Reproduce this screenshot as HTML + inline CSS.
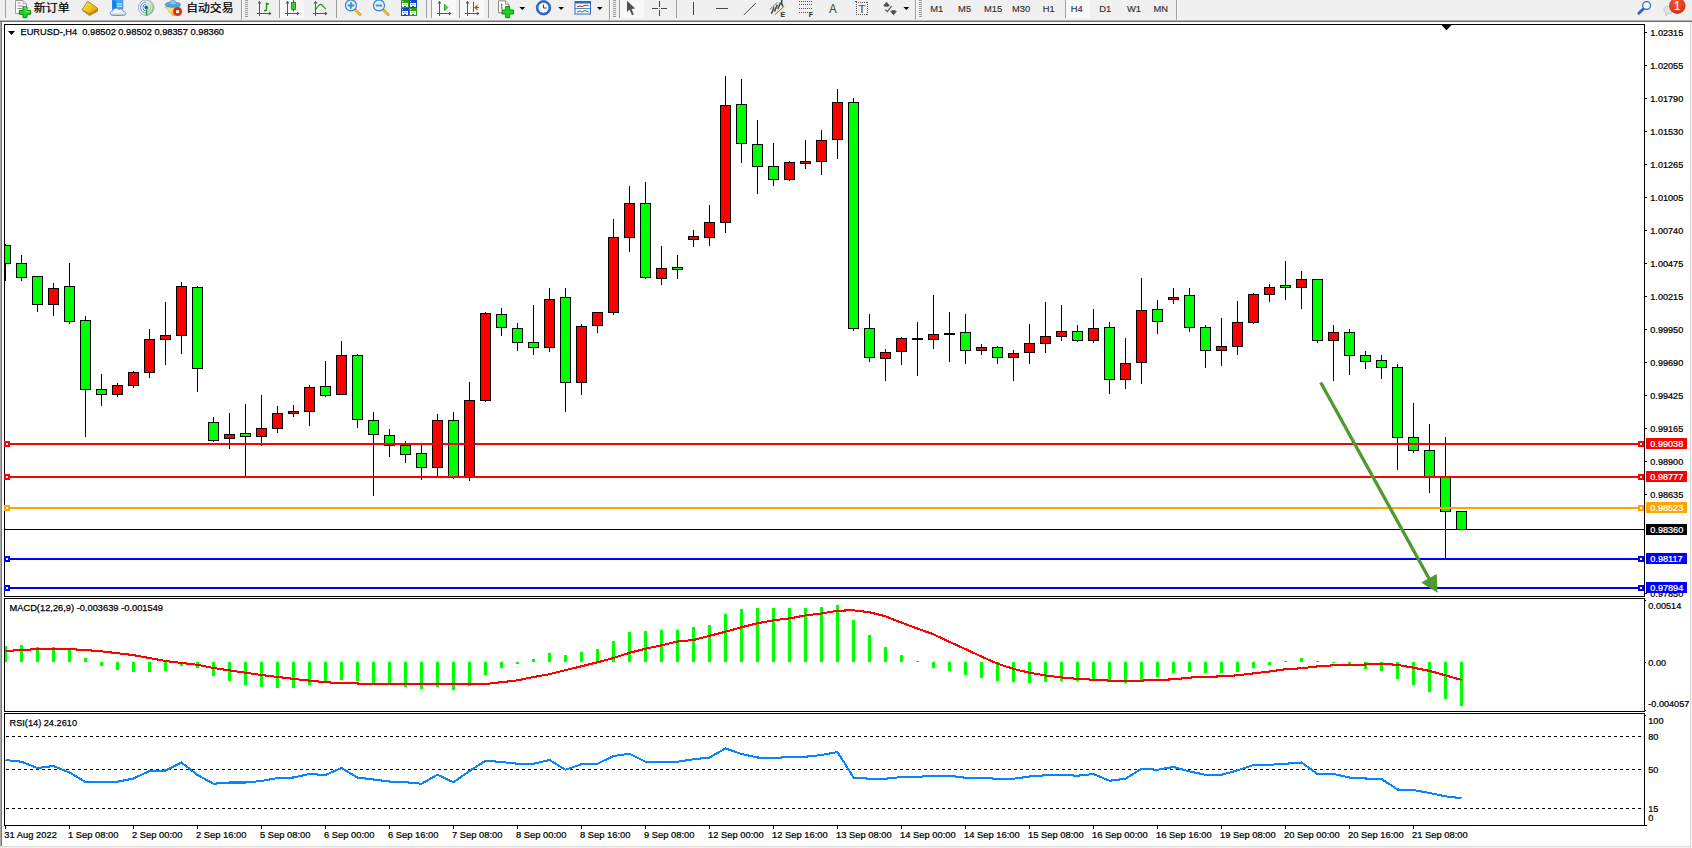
<!DOCTYPE html>
<html lang="zh-CN"><head><meta charset="utf-8"><title>EURUSD-,H4</title>
<style>
html,body{margin:0;padding:0;background:#f0f0f0;}
body{width:1692px;height:848px;overflow:hidden;font-family:"Liberation Sans", sans-serif;}
svg text{white-space:pre;}
</style></head>
<body>
<svg width="1692" height="848" viewBox="0 0 1692 848" shape-rendering="crispEdges" font-family='"Liberation Sans", sans-serif' style="display:block"><rect x="0" y="0" width="1692" height="848" fill="#f0f0f0"/>
<rect x="0" y="20" width="1692" height="1" fill="#b4b4b4"/>
<rect x="0" y="21" width="1692" height="1" fill="#6e6e6e"/>
<rect x="2" y="22" width="1688" height="824" fill="#ffffff"/>
<rect x="0" y="22" width="1" height="824" fill="#a8a8a8"/>
<rect x="1" y="22" width="1" height="824" fill="#787878"/>
<rect x="1690" y="22" width="1" height="825" fill="#dcdcdc"/>
<rect x="0" y="846" width="1691" height="1" fill="#dcdcdc"/>
<rect x="4" y="24" width="1641" height="1" fill="#000"/><rect x="4" y="24" width="1" height="573" fill="#000"/><rect x="1644" y="24" width="1" height="573" fill="#000"/><rect x="4" y="596" width="1641" height="1" fill="#000"/>
<rect x="4" y="598" width="1641" height="1" fill="#000"/><rect x="4" y="598" width="1" height="114" fill="#000"/><rect x="1644" y="598" width="1" height="114" fill="#000"/><rect x="4" y="711" width="1641" height="1" fill="#000"/>
<rect x="4" y="713" width="1641" height="1" fill="#000"/><rect x="4" y="713" width="1" height="113" fill="#000"/><rect x="1644" y="713" width="1" height="113" fill="#000"/><rect x="4" y="825" width="1641" height="1" fill="#000"/>
<rect x="1645" y="825" width="2" height="1" fill="#000"/>
<clipPath id="cp"><rect x="5" y="25" width="1639" height="571"/></clipPath>
<g clip-path="url(#cp)">
<rect x="5" y="244" width="1" height="37" fill="#000"/>
<rect x="0" y="245" width="11" height="19" fill="#000"/>
<rect x="1" y="246" width="9" height="17" fill="#00ff00"/>
<rect x="21" y="255" width="1" height="26" fill="#000"/>
<rect x="16" y="263" width="11" height="15" fill="#000"/>
<rect x="17" y="264" width="9" height="13" fill="#00ff00"/>
<rect x="37" y="276" width="1" height="36" fill="#000"/>
<rect x="32" y="276" width="11" height="29" fill="#000"/>
<rect x="33" y="277" width="9" height="27" fill="#00ff00"/>
<rect x="53" y="283" width="1" height="33" fill="#000"/>
<rect x="48" y="288" width="11" height="17" fill="#000"/>
<rect x="49" y="289" width="9" height="15" fill="#ff0000"/>
<rect x="69" y="263" width="1" height="61" fill="#000"/>
<rect x="64" y="286" width="11" height="36" fill="#000"/>
<rect x="65" y="287" width="9" height="34" fill="#00ff00"/>
<rect x="85" y="316" width="1" height="121" fill="#000"/>
<rect x="80" y="320" width="11" height="70" fill="#000"/>
<rect x="81" y="321" width="9" height="68" fill="#00ff00"/>
<rect x="101" y="374" width="1" height="32" fill="#000"/>
<rect x="96" y="389" width="11" height="6" fill="#000"/>
<rect x="97" y="390" width="9" height="4" fill="#00ff00"/>
<rect x="117" y="383" width="1" height="14" fill="#000"/>
<rect x="112" y="385" width="11" height="10" fill="#000"/>
<rect x="113" y="386" width="9" height="8" fill="#ff0000"/>
<rect x="133" y="371" width="1" height="17" fill="#000"/>
<rect x="128" y="372" width="11" height="14" fill="#000"/>
<rect x="129" y="373" width="9" height="12" fill="#ff0000"/>
<rect x="149" y="329" width="1" height="49" fill="#000"/>
<rect x="144" y="339" width="11" height="34" fill="#000"/>
<rect x="145" y="340" width="9" height="32" fill="#ff0000"/>
<rect x="165" y="302" width="1" height="63" fill="#000"/>
<rect x="160" y="335" width="11" height="5" fill="#000"/>
<rect x="161" y="336" width="9" height="3" fill="#ff0000"/>
<rect x="181" y="282" width="1" height="72" fill="#000"/>
<rect x="176" y="286" width="11" height="50" fill="#000"/>
<rect x="177" y="287" width="9" height="48" fill="#ff0000"/>
<rect x="197" y="286" width="1" height="106" fill="#000"/>
<rect x="192" y="287" width="11" height="82" fill="#000"/>
<rect x="193" y="288" width="9" height="80" fill="#00ff00"/>
<rect x="213" y="417" width="1" height="25" fill="#000"/>
<rect x="208" y="422" width="11" height="19" fill="#000"/>
<rect x="209" y="423" width="9" height="17" fill="#00ff00"/>
<rect x="229" y="413" width="1" height="36" fill="#000"/>
<rect x="224" y="434" width="11" height="5" fill="#000"/>
<rect x="225" y="435" width="9" height="3" fill="#ff0000"/>
<rect x="245" y="404" width="1" height="72" fill="#000"/>
<rect x="240" y="433" width="11" height="4" fill="#000"/>
<rect x="241" y="434" width="9" height="2" fill="#00ff00"/>
<rect x="261" y="395" width="1" height="51" fill="#000"/>
<rect x="256" y="428" width="11" height="9" fill="#000"/>
<rect x="257" y="429" width="9" height="7" fill="#ff0000"/>
<rect x="277" y="406" width="1" height="27" fill="#000"/>
<rect x="272" y="413" width="11" height="16" fill="#000"/>
<rect x="273" y="414" width="9" height="14" fill="#ff0000"/>
<rect x="293" y="405" width="1" height="12" fill="#000"/>
<rect x="288" y="411" width="11" height="3" fill="#000"/>
<rect x="289" y="412" width="9" height="1" fill="#ff0000"/>
<rect x="309" y="385" width="1" height="41" fill="#000"/>
<rect x="304" y="387" width="11" height="25" fill="#000"/>
<rect x="305" y="388" width="9" height="23" fill="#ff0000"/>
<rect x="325" y="361" width="1" height="36" fill="#000"/>
<rect x="320" y="386" width="11" height="10" fill="#000"/>
<rect x="321" y="387" width="9" height="8" fill="#00ff00"/>
<rect x="341" y="341" width="1" height="54" fill="#000"/>
<rect x="336" y="355" width="11" height="40" fill="#000"/>
<rect x="337" y="356" width="9" height="38" fill="#ff0000"/>
<rect x="357" y="354" width="1" height="74" fill="#000"/>
<rect x="352" y="355" width="11" height="65" fill="#000"/>
<rect x="353" y="356" width="9" height="63" fill="#00ff00"/>
<rect x="373" y="412" width="1" height="84" fill="#000"/>
<rect x="368" y="420" width="11" height="15" fill="#000"/>
<rect x="369" y="421" width="9" height="13" fill="#00ff00"/>
<rect x="389" y="429" width="1" height="28" fill="#000"/>
<rect x="384" y="435" width="11" height="11" fill="#000"/>
<rect x="385" y="436" width="9" height="9" fill="#00ff00"/>
<rect x="405" y="441" width="1" height="22" fill="#000"/>
<rect x="400" y="445" width="11" height="10" fill="#000"/>
<rect x="401" y="446" width="9" height="8" fill="#00ff00"/>
<rect x="421" y="445" width="1" height="35" fill="#000"/>
<rect x="416" y="453" width="11" height="15" fill="#000"/>
<rect x="417" y="454" width="9" height="13" fill="#00ff00"/>
<rect x="437" y="414" width="1" height="62" fill="#000"/>
<rect x="432" y="420" width="11" height="48" fill="#000"/>
<rect x="433" y="421" width="9" height="46" fill="#ff0000"/>
<rect x="453" y="412" width="1" height="67" fill="#000"/>
<rect x="448" y="420" width="11" height="57" fill="#000"/>
<rect x="449" y="421" width="9" height="55" fill="#00ff00"/>
<rect x="469" y="382" width="1" height="99" fill="#000"/>
<rect x="464" y="400" width="11" height="77" fill="#000"/>
<rect x="465" y="401" width="9" height="75" fill="#ff0000"/>
<rect x="485" y="312" width="1" height="90" fill="#000"/>
<rect x="480" y="313" width="11" height="88" fill="#000"/>
<rect x="481" y="314" width="9" height="86" fill="#ff0000"/>
<rect x="501" y="308" width="1" height="28" fill="#000"/>
<rect x="496" y="314" width="11" height="14" fill="#000"/>
<rect x="497" y="315" width="9" height="12" fill="#00ff00"/>
<rect x="517" y="323" width="1" height="28" fill="#000"/>
<rect x="512" y="328" width="11" height="15" fill="#000"/>
<rect x="513" y="329" width="9" height="13" fill="#00ff00"/>
<rect x="533" y="305" width="1" height="50" fill="#000"/>
<rect x="528" y="342" width="11" height="6" fill="#000"/>
<rect x="529" y="343" width="9" height="4" fill="#00ff00"/>
<rect x="549" y="288" width="1" height="64" fill="#000"/>
<rect x="544" y="299" width="11" height="49" fill="#000"/>
<rect x="545" y="300" width="9" height="47" fill="#ff0000"/>
<rect x="565" y="288" width="1" height="124" fill="#000"/>
<rect x="560" y="297" width="11" height="86" fill="#000"/>
<rect x="561" y="298" width="9" height="84" fill="#00ff00"/>
<rect x="581" y="324" width="1" height="71" fill="#000"/>
<rect x="576" y="326" width="11" height="57" fill="#000"/>
<rect x="577" y="327" width="9" height="55" fill="#ff0000"/>
<rect x="597" y="312" width="1" height="21" fill="#000"/>
<rect x="592" y="312" width="11" height="14" fill="#000"/>
<rect x="593" y="313" width="9" height="12" fill="#ff0000"/>
<rect x="613" y="219" width="1" height="96" fill="#000"/>
<rect x="608" y="237" width="11" height="76" fill="#000"/>
<rect x="609" y="238" width="9" height="74" fill="#ff0000"/>
<rect x="629" y="186" width="1" height="66" fill="#000"/>
<rect x="624" y="203" width="11" height="35" fill="#000"/>
<rect x="625" y="204" width="9" height="33" fill="#ff0000"/>
<rect x="645" y="182" width="1" height="97" fill="#000"/>
<rect x="640" y="203" width="11" height="75" fill="#000"/>
<rect x="641" y="204" width="9" height="73" fill="#00ff00"/>
<rect x="661" y="246" width="1" height="39" fill="#000"/>
<rect x="656" y="268" width="11" height="11" fill="#000"/>
<rect x="657" y="269" width="9" height="9" fill="#ff0000"/>
<rect x="677" y="255" width="1" height="24" fill="#000"/>
<rect x="672" y="267" width="11" height="3" fill="#000"/>
<rect x="673" y="268" width="9" height="1" fill="#00ff00"/>
<rect x="693" y="230" width="1" height="17" fill="#000"/>
<rect x="688" y="236" width="11" height="4" fill="#000"/>
<rect x="689" y="237" width="9" height="2" fill="#ff0000"/>
<rect x="709" y="205" width="1" height="41" fill="#000"/>
<rect x="704" y="222" width="11" height="16" fill="#000"/>
<rect x="705" y="223" width="9" height="14" fill="#ff0000"/>
<rect x="725" y="76" width="1" height="157" fill="#000"/>
<rect x="720" y="105" width="11" height="118" fill="#000"/>
<rect x="721" y="106" width="9" height="116" fill="#ff0000"/>
<rect x="741" y="79" width="1" height="84" fill="#000"/>
<rect x="736" y="104" width="11" height="40" fill="#000"/>
<rect x="737" y="105" width="9" height="38" fill="#00ff00"/>
<rect x="757" y="120" width="1" height="74" fill="#000"/>
<rect x="752" y="144" width="11" height="23" fill="#000"/>
<rect x="753" y="145" width="9" height="21" fill="#00ff00"/>
<rect x="773" y="143" width="1" height="43" fill="#000"/>
<rect x="768" y="166" width="11" height="14" fill="#000"/>
<rect x="769" y="167" width="9" height="12" fill="#00ff00"/>
<rect x="789" y="161" width="1" height="20" fill="#000"/>
<rect x="784" y="162" width="11" height="18" fill="#000"/>
<rect x="785" y="163" width="9" height="16" fill="#ff0000"/>
<rect x="805" y="140" width="1" height="29" fill="#000"/>
<rect x="800" y="161" width="11" height="3" fill="#000"/>
<rect x="801" y="162" width="9" height="1" fill="#ff0000"/>
<rect x="821" y="130" width="1" height="45" fill="#000"/>
<rect x="816" y="140" width="11" height="22" fill="#000"/>
<rect x="817" y="141" width="9" height="20" fill="#ff0000"/>
<rect x="837" y="89" width="1" height="70" fill="#000"/>
<rect x="832" y="102" width="11" height="38" fill="#000"/>
<rect x="833" y="103" width="9" height="36" fill="#ff0000"/>
<rect x="853" y="98" width="1" height="233" fill="#000"/>
<rect x="848" y="102" width="11" height="227" fill="#000"/>
<rect x="849" y="103" width="9" height="225" fill="#00ff00"/>
<rect x="869" y="314" width="1" height="48" fill="#000"/>
<rect x="864" y="328" width="11" height="30" fill="#000"/>
<rect x="865" y="329" width="9" height="28" fill="#00ff00"/>
<rect x="885" y="349" width="1" height="32" fill="#000"/>
<rect x="880" y="352" width="11" height="7" fill="#000"/>
<rect x="881" y="353" width="9" height="5" fill="#ff0000"/>
<rect x="901" y="337" width="1" height="28" fill="#000"/>
<rect x="896" y="338" width="11" height="14" fill="#000"/>
<rect x="897" y="339" width="9" height="12" fill="#ff0000"/>
<rect x="917" y="322" width="1" height="54" fill="#000"/>
<rect x="912" y="338" width="11" height="2" fill="#000"/>
<rect x="933" y="295" width="1" height="54" fill="#000"/>
<rect x="928" y="334" width="11" height="6" fill="#000"/>
<rect x="929" y="335" width="9" height="4" fill="#ff0000"/>
<rect x="949" y="312" width="1" height="50" fill="#000"/>
<rect x="944" y="333" width="11" height="2" fill="#000"/>
<rect x="965" y="314" width="1" height="50" fill="#000"/>
<rect x="960" y="332" width="11" height="19" fill="#000"/>
<rect x="961" y="333" width="9" height="17" fill="#00ff00"/>
<rect x="981" y="344" width="1" height="11" fill="#000"/>
<rect x="976" y="347" width="11" height="4" fill="#000"/>
<rect x="977" y="348" width="9" height="2" fill="#ff0000"/>
<rect x="997" y="346" width="1" height="18" fill="#000"/>
<rect x="992" y="347" width="11" height="11" fill="#000"/>
<rect x="993" y="348" width="9" height="9" fill="#00ff00"/>
<rect x="1013" y="350" width="1" height="31" fill="#000"/>
<rect x="1008" y="353" width="11" height="5" fill="#000"/>
<rect x="1009" y="354" width="9" height="3" fill="#ff0000"/>
<rect x="1029" y="324" width="1" height="40" fill="#000"/>
<rect x="1024" y="343" width="11" height="10" fill="#000"/>
<rect x="1025" y="344" width="9" height="8" fill="#ff0000"/>
<rect x="1045" y="302" width="1" height="51" fill="#000"/>
<rect x="1040" y="336" width="11" height="8" fill="#000"/>
<rect x="1041" y="337" width="9" height="6" fill="#ff0000"/>
<rect x="1061" y="305" width="1" height="36" fill="#000"/>
<rect x="1056" y="331" width="11" height="6" fill="#000"/>
<rect x="1057" y="332" width="9" height="4" fill="#ff0000"/>
<rect x="1077" y="325" width="1" height="17" fill="#000"/>
<rect x="1072" y="331" width="11" height="10" fill="#000"/>
<rect x="1073" y="332" width="9" height="8" fill="#00ff00"/>
<rect x="1093" y="309" width="1" height="34" fill="#000"/>
<rect x="1088" y="328" width="11" height="13" fill="#000"/>
<rect x="1089" y="329" width="9" height="11" fill="#ff0000"/>
<rect x="1109" y="322" width="1" height="72" fill="#000"/>
<rect x="1104" y="327" width="11" height="53" fill="#000"/>
<rect x="1105" y="328" width="9" height="51" fill="#00ff00"/>
<rect x="1125" y="338" width="1" height="51" fill="#000"/>
<rect x="1120" y="363" width="11" height="17" fill="#000"/>
<rect x="1121" y="364" width="9" height="15" fill="#ff0000"/>
<rect x="1141" y="278" width="1" height="106" fill="#000"/>
<rect x="1136" y="310" width="11" height="53" fill="#000"/>
<rect x="1137" y="311" width="9" height="51" fill="#ff0000"/>
<rect x="1157" y="300" width="1" height="34" fill="#000"/>
<rect x="1152" y="309" width="11" height="13" fill="#000"/>
<rect x="1153" y="310" width="9" height="11" fill="#00ff00"/>
<rect x="1173" y="288" width="1" height="16" fill="#000"/>
<rect x="1168" y="297" width="11" height="3" fill="#000"/>
<rect x="1169" y="298" width="9" height="1" fill="#ff0000"/>
<rect x="1189" y="288" width="1" height="44" fill="#000"/>
<rect x="1184" y="295" width="11" height="33" fill="#000"/>
<rect x="1185" y="296" width="9" height="31" fill="#00ff00"/>
<rect x="1205" y="325" width="1" height="43" fill="#000"/>
<rect x="1200" y="327" width="11" height="24" fill="#000"/>
<rect x="1201" y="328" width="9" height="22" fill="#00ff00"/>
<rect x="1221" y="318" width="1" height="48" fill="#000"/>
<rect x="1216" y="346" width="11" height="5" fill="#000"/>
<rect x="1217" y="347" width="9" height="3" fill="#ff0000"/>
<rect x="1237" y="301" width="1" height="54" fill="#000"/>
<rect x="1232" y="322" width="11" height="25" fill="#000"/>
<rect x="1233" y="323" width="9" height="23" fill="#ff0000"/>
<rect x="1253" y="293" width="1" height="31" fill="#000"/>
<rect x="1248" y="294" width="11" height="29" fill="#000"/>
<rect x="1249" y="295" width="9" height="27" fill="#ff0000"/>
<rect x="1269" y="284" width="1" height="18" fill="#000"/>
<rect x="1264" y="287" width="11" height="8" fill="#000"/>
<rect x="1265" y="288" width="9" height="6" fill="#ff0000"/>
<rect x="1285" y="261" width="1" height="39" fill="#000"/>
<rect x="1280" y="285" width="11" height="3" fill="#000"/>
<rect x="1281" y="286" width="9" height="1" fill="#00ff00"/>
<rect x="1301" y="271" width="1" height="38" fill="#000"/>
<rect x="1296" y="279" width="11" height="9" fill="#000"/>
<rect x="1297" y="280" width="9" height="7" fill="#ff0000"/>
<rect x="1317" y="279" width="1" height="64" fill="#000"/>
<rect x="1312" y="279" width="11" height="62" fill="#000"/>
<rect x="1313" y="280" width="9" height="60" fill="#00ff00"/>
<rect x="1333" y="325" width="1" height="56" fill="#000"/>
<rect x="1328" y="332" width="11" height="9" fill="#000"/>
<rect x="1329" y="333" width="9" height="7" fill="#ff0000"/>
<rect x="1349" y="329" width="1" height="46" fill="#000"/>
<rect x="1344" y="332" width="11" height="24" fill="#000"/>
<rect x="1345" y="333" width="9" height="22" fill="#00ff00"/>
<rect x="1365" y="351" width="1" height="18" fill="#000"/>
<rect x="1360" y="355" width="11" height="7" fill="#000"/>
<rect x="1361" y="356" width="9" height="5" fill="#00ff00"/>
<rect x="1381" y="355" width="1" height="24" fill="#000"/>
<rect x="1376" y="360" width="11" height="8" fill="#000"/>
<rect x="1377" y="361" width="9" height="6" fill="#00ff00"/>
<rect x="1397" y="364" width="1" height="106" fill="#000"/>
<rect x="1392" y="367" width="11" height="71" fill="#000"/>
<rect x="1393" y="368" width="9" height="69" fill="#00ff00"/>
<rect x="1413" y="403" width="1" height="50" fill="#000"/>
<rect x="1408" y="437" width="11" height="14" fill="#000"/>
<rect x="1409" y="438" width="9" height="12" fill="#00ff00"/>
<rect x="1429" y="424" width="1" height="69" fill="#000"/>
<rect x="1424" y="450" width="11" height="27" fill="#000"/>
<rect x="1425" y="451" width="9" height="25" fill="#00ff00"/>
<rect x="1445" y="437" width="1" height="121" fill="#000"/>
<rect x="1440" y="477" width="11" height="35" fill="#000"/>
<rect x="1441" y="478" width="9" height="33" fill="#00ff00"/>
<rect x="1461" y="511" width="1" height="19" fill="#000"/>
<rect x="1456" y="511" width="11" height="19" fill="#000"/>
<rect x="1457" y="512" width="9" height="17" fill="#00ff00"/>
</g>
<rect x="5" y="529" width="1639" height="1" fill="#000"/>
<rect x="5" y="443" width="1639" height="2" fill="#ff0000"/><rect x="4" y="441" width="6" height="6" fill="#ff0000"/><rect x="6" y="443" width="2" height="2" fill="#fff"/><rect x="1638" y="441" width="6" height="6" fill="#ff0000"/><rect x="1640" y="443" width="2" height="2" fill="#fff"/>
<rect x="5" y="476" width="1639" height="2" fill="#ff0000"/><rect x="4" y="474" width="6" height="6" fill="#ff0000"/><rect x="6" y="476" width="2" height="2" fill="#fff"/><rect x="1638" y="474" width="6" height="6" fill="#ff0000"/><rect x="1640" y="476" width="2" height="2" fill="#fff"/>
<rect x="5" y="507" width="1639" height="2" fill="#ffa500"/><rect x="4" y="505" width="6" height="6" fill="#ffa500"/><rect x="6" y="507" width="2" height="2" fill="#fff"/><rect x="1638" y="505" width="6" height="6" fill="#ffa500"/><rect x="1640" y="507" width="2" height="2" fill="#fff"/>
<rect x="5" y="558" width="1639" height="2" fill="#0000ff"/><rect x="4" y="556" width="6" height="6" fill="#0000ff"/><rect x="6" y="558" width="2" height="2" fill="#fff"/><rect x="1638" y="556" width="6" height="6" fill="#0000ff"/><rect x="1640" y="558" width="2" height="2" fill="#fff"/>
<rect x="5" y="587" width="1639" height="2" fill="#0000ff"/><rect x="4" y="585" width="6" height="6" fill="#0000ff"/><rect x="6" y="587" width="2" height="2" fill="#fff"/><rect x="1638" y="585" width="6" height="6" fill="#0000ff"/><rect x="1640" y="587" width="2" height="2" fill="#fff"/>
<line x1="1320.7" y1="382.5" x2="1431" y2="582" stroke="#4f9a2f" stroke-width="3.3" shape-rendering="geometricPrecision"/>
<polygon points="1437.5,592.8 1421.2,582.4 1436.8,574" fill="#4f9a2f" shape-rendering="geometricPrecision"/>
<g shape-rendering="geometricPrecision">
<rect x="1645" y="32" width="2" height="1" fill="#000"/>
<text transform="translate(1650.30,35.81) scale(0.93,1)" font-size="9.8" fill="#000" stroke="#000" stroke-width="0.25" text-anchor="start">1.02315</text>
<rect x="1645" y="65" width="2" height="1" fill="#000"/>
<text transform="translate(1650.30,68.83) scale(0.93,1)" font-size="9.8" fill="#000" stroke="#000" stroke-width="0.25" text-anchor="start">1.02055</text>
<rect x="1645" y="98" width="2" height="1" fill="#000"/>
<text transform="translate(1650.30,101.85) scale(0.93,1)" font-size="9.8" fill="#000" stroke="#000" stroke-width="0.25" text-anchor="start">1.01790</text>
<rect x="1645" y="131" width="2" height="1" fill="#000"/>
<text transform="translate(1650.30,134.87) scale(0.93,1)" font-size="9.8" fill="#000" stroke="#000" stroke-width="0.25" text-anchor="start">1.01530</text>
<rect x="1645" y="164" width="2" height="1" fill="#000"/>
<text transform="translate(1650.30,167.89) scale(0.93,1)" font-size="9.8" fill="#000" stroke="#000" stroke-width="0.25" text-anchor="start">1.01265</text>
<rect x="1645" y="197" width="2" height="1" fill="#000"/>
<text transform="translate(1650.30,200.91) scale(0.93,1)" font-size="9.8" fill="#000" stroke="#000" stroke-width="0.25" text-anchor="start">1.01005</text>
<rect x="1645" y="230" width="2" height="1" fill="#000"/>
<text transform="translate(1650.30,233.93) scale(0.93,1)" font-size="9.8" fill="#000" stroke="#000" stroke-width="0.25" text-anchor="start">1.00740</text>
<rect x="1645" y="263" width="2" height="1" fill="#000"/>
<text transform="translate(1650.30,266.95) scale(0.93,1)" font-size="9.8" fill="#000" stroke="#000" stroke-width="0.25" text-anchor="start">1.00475</text>
<rect x="1645" y="296" width="2" height="1" fill="#000"/>
<text transform="translate(1650.30,299.97) scale(0.93,1)" font-size="9.8" fill="#000" stroke="#000" stroke-width="0.25" text-anchor="start">1.00215</text>
<rect x="1645" y="329" width="2" height="1" fill="#000"/>
<text transform="translate(1650.30,332.99) scale(0.93,1)" font-size="9.8" fill="#000" stroke="#000" stroke-width="0.25" text-anchor="start">0.99950</text>
<rect x="1645" y="362" width="2" height="1" fill="#000"/>
<text transform="translate(1650.30,366.01) scale(0.93,1)" font-size="9.8" fill="#000" stroke="#000" stroke-width="0.25" text-anchor="start">0.99690</text>
<rect x="1645" y="395" width="2" height="1" fill="#000"/>
<text transform="translate(1650.30,399.03) scale(0.93,1)" font-size="9.8" fill="#000" stroke="#000" stroke-width="0.25" text-anchor="start">0.99425</text>
<rect x="1645" y="428" width="2" height="1" fill="#000"/>
<text transform="translate(1650.30,432.05) scale(0.93,1)" font-size="9.8" fill="#000" stroke="#000" stroke-width="0.25" text-anchor="start">0.99165</text>
<rect x="1645" y="461" width="2" height="1" fill="#000"/>
<text transform="translate(1650.30,465.07) scale(0.93,1)" font-size="9.8" fill="#000" stroke="#000" stroke-width="0.25" text-anchor="start">0.98900</text>
<rect x="1645" y="494" width="2" height="1" fill="#000"/>
<text transform="translate(1650.30,498.09) scale(0.93,1)" font-size="9.8" fill="#000" stroke="#000" stroke-width="0.25" text-anchor="start">0.98635</text>
<clipPath id="cp2"><rect x="1645" y="25" width="45" height="571"/></clipPath>
<text transform="translate(1650.30,597.11) scale(0.93,1)" font-size="9.8" fill="#000" stroke="#000" stroke-width="0.25" text-anchor="start">0.97850</text>
<rect x="1645" y="593" width="2" height="1" fill="#000"/>
<rect x="1646" y="438" width="41" height="11" fill="#ff0000"/>
<text transform="translate(1650.30,447.11) scale(0.93,1)" font-size="9.8" fill="#fff" stroke="#fff" stroke-width="0.25" text-anchor="start">0.99038</text>
<rect x="1646" y="471" width="41" height="11" fill="#ff0000"/>
<text transform="translate(1650.30,480.11) scale(0.93,1)" font-size="9.8" fill="#fff" stroke="#fff" stroke-width="0.25" text-anchor="start">0.98777</text>
<rect x="1646" y="502" width="41" height="11" fill="#ffa500"/>
<text transform="translate(1650.30,511.11) scale(0.93,1)" font-size="9.8" fill="#fff" stroke="#fff" stroke-width="0.25" text-anchor="start">0.98523</text>
<rect x="1646" y="553" width="41" height="11" fill="#0000ff"/>
<text transform="translate(1650.30,562.11) scale(0.93,1)" font-size="9.8" fill="#fff" stroke="#fff" stroke-width="0.25" text-anchor="start">0.98117</text>
<rect x="1646" y="582" width="41" height="11" fill="#0000ff"/>
<text transform="translate(1650.30,591.11) scale(0.93,1)" font-size="9.8" fill="#fff" stroke="#fff" stroke-width="0.25" text-anchor="start">0.97894</text>
<rect x="1646" y="524" width="41" height="11" fill="#000"/>
<text transform="translate(1650.30,533.11) scale(0.93,1)" font-size="9.8" fill="#fff" stroke="#fff" stroke-width="0.25" text-anchor="start">0.98360</text>
</g>
<polygon points="8,31 15,31 11.5,35" fill="#000" shape-rendering="geometricPrecision"/>
<text x="20.50" y="35.21" font-size="9.8" fill="#000" stroke="#000" stroke-width="0.25" text-anchor="start" textLength="203.5" lengthAdjust="spacingAndGlyphs">EURUSD-,H4&#160; 0.98502 0.98502 0.98357 0.98360</text>
<polygon points="1441.5,25 1451.5,25 1446.5,30.2" fill="#000" shape-rendering="geometricPrecision"/>
<text x="9.50" y="611.11" font-size="9.8" fill="#000" stroke="#000" stroke-width="0.25" text-anchor="start" textLength="153.5" lengthAdjust="spacingAndGlyphs">MACD(12,26,9) -0.003639 -0.001549</text>
<rect x="5" y="646" width="2" height="16" fill="#00ff00"/>
<rect x="20" y="645" width="3" height="17" fill="#00ff00"/>
<rect x="36" y="647" width="3" height="15" fill="#00ff00"/>
<rect x="52" y="647" width="3" height="15" fill="#00ff00"/>
<rect x="68" y="650" width="3" height="12" fill="#00ff00"/>
<rect x="84" y="658" width="3" height="4" fill="#00ff00"/>
<rect x="100" y="662" width="3" height="4" fill="#00ff00"/>
<rect x="116" y="662" width="3" height="8" fill="#00ff00"/>
<rect x="132" y="662" width="3" height="10" fill="#00ff00"/>
<rect x="148" y="662" width="3" height="10" fill="#00ff00"/>
<rect x="164" y="662" width="3" height="9" fill="#00ff00"/>
<rect x="180" y="662" width="3" height="4" fill="#00ff00"/>
<rect x="196" y="662" width="3" height="6" fill="#00ff00"/>
<rect x="212" y="662" width="3" height="14" fill="#00ff00"/>
<rect x="228" y="662" width="3" height="19" fill="#00ff00"/>
<rect x="244" y="662" width="3" height="23" fill="#00ff00"/>
<rect x="260" y="662" width="3" height="25" fill="#00ff00"/>
<rect x="276" y="662" width="3" height="26" fill="#00ff00"/>
<rect x="292" y="662" width="3" height="26" fill="#00ff00"/>
<rect x="308" y="662" width="3" height="23" fill="#00ff00"/>
<rect x="324" y="662" width="3" height="21" fill="#00ff00"/>
<rect x="340" y="662" width="3" height="18" fill="#00ff00"/>
<rect x="356" y="662" width="3" height="19" fill="#00ff00"/>
<rect x="372" y="662" width="3" height="21" fill="#00ff00"/>
<rect x="388" y="662" width="3" height="22" fill="#00ff00"/>
<rect x="404" y="662" width="3" height="25" fill="#00ff00"/>
<rect x="420" y="662" width="3" height="27" fill="#00ff00"/>
<rect x="436" y="662" width="3" height="25" fill="#00ff00"/>
<rect x="452" y="662" width="3" height="28" fill="#00ff00"/>
<rect x="468" y="662" width="3" height="24" fill="#00ff00"/>
<rect x="484" y="662" width="3" height="13" fill="#00ff00"/>
<rect x="500" y="662" width="3" height="6" fill="#00ff00"/>
<rect x="516" y="662" width="3" height="2" fill="#00ff00"/>
<rect x="532" y="659" width="3" height="3" fill="#00ff00"/>
<rect x="548" y="653" width="3" height="9" fill="#00ff00"/>
<rect x="564" y="655" width="3" height="7" fill="#00ff00"/>
<rect x="580" y="652" width="3" height="10" fill="#00ff00"/>
<rect x="596" y="649" width="3" height="13" fill="#00ff00"/>
<rect x="612" y="641" width="3" height="21" fill="#00ff00"/>
<rect x="628" y="632" width="3" height="30" fill="#00ff00"/>
<rect x="644" y="631" width="3" height="31" fill="#00ff00"/>
<rect x="660" y="630" width="3" height="32" fill="#00ff00"/>
<rect x="676" y="630" width="3" height="32" fill="#00ff00"/>
<rect x="692" y="627" width="3" height="35" fill="#00ff00"/>
<rect x="708" y="625" width="3" height="37" fill="#00ff00"/>
<rect x="724" y="614" width="3" height="48" fill="#00ff00"/>
<rect x="740" y="609" width="3" height="53" fill="#00ff00"/>
<rect x="756" y="608" width="3" height="54" fill="#00ff00"/>
<rect x="772" y="608" width="3" height="54" fill="#00ff00"/>
<rect x="788" y="608" width="3" height="54" fill="#00ff00"/>
<rect x="804" y="608" width="3" height="54" fill="#00ff00"/>
<rect x="820" y="607" width="3" height="55" fill="#00ff00"/>
<rect x="836" y="605" width="3" height="57" fill="#00ff00"/>
<rect x="852" y="620" width="3" height="42" fill="#00ff00"/>
<rect x="868" y="635" width="3" height="27" fill="#00ff00"/>
<rect x="884" y="647" width="3" height="15" fill="#00ff00"/>
<rect x="900" y="655" width="3" height="7" fill="#00ff00"/>
<rect x="916" y="661" width="3" height="1" fill="#00ff00"/>
<rect x="932" y="662" width="3" height="6" fill="#00ff00"/>
<rect x="948" y="662" width="3" height="9" fill="#00ff00"/>
<rect x="964" y="662" width="3" height="13" fill="#00ff00"/>
<rect x="980" y="662" width="3" height="16" fill="#00ff00"/>
<rect x="996" y="662" width="3" height="19" fill="#00ff00"/>
<rect x="1012" y="662" width="3" height="20" fill="#00ff00"/>
<rect x="1028" y="662" width="3" height="21" fill="#00ff00"/>
<rect x="1044" y="662" width="3" height="20" fill="#00ff00"/>
<rect x="1060" y="662" width="3" height="19" fill="#00ff00"/>
<rect x="1076" y="662" width="3" height="19" fill="#00ff00"/>
<rect x="1092" y="662" width="3" height="18" fill="#00ff00"/>
<rect x="1108" y="662" width="3" height="20" fill="#00ff00"/>
<rect x="1124" y="662" width="3" height="21" fill="#00ff00"/>
<rect x="1140" y="662" width="3" height="18" fill="#00ff00"/>
<rect x="1156" y="662" width="3" height="15" fill="#00ff00"/>
<rect x="1172" y="662" width="3" height="11" fill="#00ff00"/>
<rect x="1188" y="662" width="3" height="10" fill="#00ff00"/>
<rect x="1204" y="662" width="3" height="11" fill="#00ff00"/>
<rect x="1220" y="662" width="3" height="11" fill="#00ff00"/>
<rect x="1236" y="662" width="3" height="10" fill="#00ff00"/>
<rect x="1252" y="662" width="3" height="6" fill="#00ff00"/>
<rect x="1268" y="662" width="3" height="3" fill="#00ff00"/>
<rect x="1284" y="661" width="3" height="1" fill="#00ff00"/>
<rect x="1300" y="658" width="3" height="4" fill="#00ff00"/>
<rect x="1316" y="661" width="3" height="1" fill="#00ff00"/>
<rect x="1332" y="662" width="3" height="1" fill="#00ff00"/>
<rect x="1348" y="662" width="3" height="2" fill="#00ff00"/>
<rect x="1364" y="662" width="3" height="7" fill="#00ff00"/>
<rect x="1380" y="662" width="3" height="9" fill="#00ff00"/>
<rect x="1396" y="662" width="3" height="17" fill="#00ff00"/>
<rect x="1412" y="662" width="3" height="23" fill="#00ff00"/>
<rect x="1428" y="662" width="3" height="30" fill="#00ff00"/>
<rect x="1444" y="662" width="3" height="37" fill="#00ff00"/>
<rect x="1460" y="662" width="3" height="44" fill="#00ff00"/>
<polyline points="5.5,651.00 21.5,650.00 37.5,649.10 53.5,649.10 69.5,649.10 85.5,650.00 101.5,651.30 117.5,653.20 133.5,655.10 149.5,658.10 165.5,661.00 181.5,662.90 197.5,664.80 213.5,668.00 229.5,670.40 245.5,672.70 261.5,675.00 277.5,676.90 293.5,678.90 309.5,680.60 325.5,682.20 341.5,683.10 357.5,683.50 373.5,684.00 389.5,684.00 405.5,684.00 421.5,684.00 437.5,684.00 453.5,684.00 469.5,684.00 485.5,684.00 501.5,682.20 517.5,680.30 533.5,677.00 549.5,674.20 565.5,670.10 581.5,666.30 597.5,662.30 613.5,658.00 629.5,652.80 645.5,648.70 661.5,645.30 677.5,641.50 693.5,640.00 709.5,635.80 725.5,631.70 741.5,627.30 757.5,623.20 773.5,620.30 789.5,618.40 805.5,615.40 821.5,613.50 837.5,610.70 853.5,610.30 869.5,612.20 885.5,616.30 901.5,622.60 917.5,628.60 933.5,634.30 949.5,641.90 965.5,649.10 981.5,656.60 997.5,663.60 1013.5,668.90 1029.5,672.70 1045.5,675.50 1061.5,677.40 1077.5,678.90 1093.5,679.70 1109.5,680.60 1125.5,680.80 1141.5,680.60 1157.5,679.80 1173.5,679.40 1189.5,677.60 1205.5,676.80 1221.5,676.40 1237.5,675.30 1253.5,673.40 1269.5,671.50 1285.5,669.20 1301.5,668.30 1317.5,666.40 1333.5,665.30 1349.5,664.90 1365.5,664.50 1381.5,663.60 1397.5,664.90 1413.5,667.70 1429.5,670.90 1445.5,675.30 1461.5,680.00" fill="none" stroke="#ff0000" stroke-width="2.05" stroke-linejoin="round" shape-rendering="crispEdges"/>
<g shape-rendering="geometricPrecision">
<text transform="translate(1648.30,609.11) scale(0.93,1)" font-size="9.8" fill="#000" stroke="#000" stroke-width="0.25" text-anchor="start">0.00514</text>
<text transform="translate(1648.30,665.51) scale(0.93,1)" font-size="9.8" fill="#000" stroke="#000" stroke-width="0.25" text-anchor="start">0.00</text>
<text transform="translate(1648.30,707.11) scale(0.93,1)" font-size="9.8" fill="#000" stroke="#000" stroke-width="0.25" text-anchor="start">-0.004057</text>
</g>
<rect x="1645" y="662" width="1" height="1" fill="#000"/>
<rect x="1645" y="600" width="1" height="1" fill="#000"/>
<rect x="1645" y="710" width="1" height="1" fill="#000"/>
<rect x="1645" y="715" width="1" height="1" fill="#000"/>
<text x="9.50" y="726.11" font-size="9.8" fill="#000" stroke="#000" stroke-width="0.25" text-anchor="start" textLength="67.5" lengthAdjust="spacingAndGlyphs">RSI(14) 24.2610</text>
<line x1="6" y1="736.5" x2="1644" y2="736.5" stroke="#000" stroke-width="1" stroke-dasharray="3 3"/>
<line x1="6" y1="769.5" x2="1644" y2="769.5" stroke="#000" stroke-width="1" stroke-dasharray="3 3"/>
<line x1="6" y1="808.5" x2="1644" y2="808.5" stroke="#000" stroke-width="1" stroke-dasharray="3 3"/>
<polyline points="5.5,760.00 21.5,761.75 37.5,768.00 53.5,766.00 69.5,772.50 85.5,782.00 101.5,782.00 117.5,781.75 133.5,778.50 149.5,771.00 165.5,770.50 181.5,762.50 197.5,775.00 213.5,783.75 229.5,782.50 245.5,782.50 261.5,781.00 277.5,778.00 293.5,777.50 309.5,774.00 325.5,775.00 341.5,768.00 357.5,777.50 373.5,779.50 389.5,781.50 405.5,782.25 421.5,783.75 437.5,774.75 453.5,782.25 469.5,771.00 485.5,760.75 501.5,762.00 517.5,763.75 533.5,763.75 549.5,760.00 565.5,769.75 581.5,764.25 597.5,763.75 613.5,756.00 629.5,753.75 645.5,761.75 661.5,761.75 677.5,761.75 693.5,759.25 709.5,757.50 725.5,748.50 741.5,754.00 757.5,757.50 773.5,758.00 789.5,757.00 805.5,756.75 821.5,755.00 837.5,752.00 853.5,777.50 869.5,778.75 885.5,778.75 901.5,777.00 917.5,776.75 933.5,776.00 949.5,775.75 965.5,777.75 981.5,778.00 997.5,778.75 1013.5,778.75 1029.5,776.50 1045.5,775.25 1061.5,774.75 1077.5,775.75 1093.5,774.00 1109.5,780.75 1125.5,778.75 1141.5,768.75 1157.5,769.75 1173.5,767.00 1189.5,771.40 1205.5,774.80 1221.5,774.80 1237.5,770.40 1253.5,765.10 1269.5,764.80 1285.5,763.75 1301.5,762.50 1317.5,774.00 1333.5,774.00 1349.5,777.50 1365.5,778.50 1381.5,779.00 1397.5,789.50 1413.5,790.00 1429.5,793.00 1445.5,796.30 1461.5,798.20" fill="none" stroke="#0685ff" stroke-width="2.05" stroke-linejoin="round" shape-rendering="crispEdges"/>
<g shape-rendering="geometricPrecision">
<text transform="translate(1648.30,723.51) scale(0.93,1)" font-size="9.8" fill="#000" stroke="#000" stroke-width="0.25" text-anchor="start">100</text>
<text transform="translate(1648.30,739.81) scale(0.93,1)" font-size="9.8" fill="#000" stroke="#000" stroke-width="0.25" text-anchor="start">80</text>
<text transform="translate(1648.30,773.01) scale(0.93,1)" font-size="9.8" fill="#000" stroke="#000" stroke-width="0.25" text-anchor="start">50</text>
<text transform="translate(1648.30,812.01) scale(0.93,1)" font-size="9.8" fill="#000" stroke="#000" stroke-width="0.25" text-anchor="start">15</text>
<text transform="translate(1648.30,821.31) scale(0.93,1)" font-size="9.8" fill="#000" stroke="#000" stroke-width="0.25" text-anchor="start">0</text>
<rect x="5" y="826" width="1" height="3" fill="#000"/>
<text transform="translate(4.30,838.11) scale(0.955,1)" font-size="9.8" fill="#000" stroke="#000" stroke-width="0.25" text-anchor="start">31 Aug 2022</text>
<rect x="69" y="826" width="1" height="3" fill="#000"/>
<text transform="translate(68.00,838.11) scale(0.955,1)" font-size="9.8" fill="#000" stroke="#000" stroke-width="0.25" text-anchor="start">1 Sep 08:00</text>
<rect x="133" y="826" width="1" height="3" fill="#000"/>
<text transform="translate(132.00,838.11) scale(0.955,1)" font-size="9.8" fill="#000" stroke="#000" stroke-width="0.25" text-anchor="start">2 Sep 00:00</text>
<rect x="197" y="826" width="1" height="3" fill="#000"/>
<text transform="translate(196.00,838.11) scale(0.955,1)" font-size="9.8" fill="#000" stroke="#000" stroke-width="0.25" text-anchor="start">2 Sep 16:00</text>
<rect x="261" y="826" width="1" height="3" fill="#000"/>
<text transform="translate(260.00,838.11) scale(0.955,1)" font-size="9.8" fill="#000" stroke="#000" stroke-width="0.25" text-anchor="start">5 Sep 08:00</text>
<rect x="325" y="826" width="1" height="3" fill="#000"/>
<text transform="translate(324.00,838.11) scale(0.955,1)" font-size="9.8" fill="#000" stroke="#000" stroke-width="0.25" text-anchor="start">6 Sep 00:00</text>
<rect x="389" y="826" width="1" height="3" fill="#000"/>
<text transform="translate(388.00,838.11) scale(0.955,1)" font-size="9.8" fill="#000" stroke="#000" stroke-width="0.25" text-anchor="start">6 Sep 16:00</text>
<rect x="453" y="826" width="1" height="3" fill="#000"/>
<text transform="translate(452.00,838.11) scale(0.955,1)" font-size="9.8" fill="#000" stroke="#000" stroke-width="0.25" text-anchor="start">7 Sep 08:00</text>
<rect x="517" y="826" width="1" height="3" fill="#000"/>
<text transform="translate(516.00,838.11) scale(0.955,1)" font-size="9.8" fill="#000" stroke="#000" stroke-width="0.25" text-anchor="start">8 Sep 00:00</text>
<rect x="581" y="826" width="1" height="3" fill="#000"/>
<text transform="translate(580.00,838.11) scale(0.955,1)" font-size="9.8" fill="#000" stroke="#000" stroke-width="0.25" text-anchor="start">8 Sep 16:00</text>
<rect x="645" y="826" width="1" height="3" fill="#000"/>
<text transform="translate(644.00,838.11) scale(0.955,1)" font-size="9.8" fill="#000" stroke="#000" stroke-width="0.25" text-anchor="start">9 Sep 08:00</text>
<rect x="709" y="826" width="1" height="3" fill="#000"/>
<text transform="translate(708.00,838.11) scale(0.955,1)" font-size="9.8" fill="#000" stroke="#000" stroke-width="0.25" text-anchor="start">12 Sep 00:00</text>
<rect x="773" y="826" width="1" height="3" fill="#000"/>
<text transform="translate(772.00,838.11) scale(0.955,1)" font-size="9.8" fill="#000" stroke="#000" stroke-width="0.25" text-anchor="start">12 Sep 16:00</text>
<rect x="837" y="826" width="1" height="3" fill="#000"/>
<text transform="translate(836.00,838.11) scale(0.955,1)" font-size="9.8" fill="#000" stroke="#000" stroke-width="0.25" text-anchor="start">13 Sep 08:00</text>
<rect x="901" y="826" width="1" height="3" fill="#000"/>
<text transform="translate(900.00,838.11) scale(0.955,1)" font-size="9.8" fill="#000" stroke="#000" stroke-width="0.25" text-anchor="start">14 Sep 00:00</text>
<rect x="965" y="826" width="1" height="3" fill="#000"/>
<text transform="translate(964.00,838.11) scale(0.955,1)" font-size="9.8" fill="#000" stroke="#000" stroke-width="0.25" text-anchor="start">14 Sep 16:00</text>
<rect x="1029" y="826" width="1" height="3" fill="#000"/>
<text transform="translate(1028.00,838.11) scale(0.955,1)" font-size="9.8" fill="#000" stroke="#000" stroke-width="0.25" text-anchor="start">15 Sep 08:00</text>
<rect x="1093" y="826" width="1" height="3" fill="#000"/>
<text transform="translate(1092.00,838.11) scale(0.955,1)" font-size="9.8" fill="#000" stroke="#000" stroke-width="0.25" text-anchor="start">16 Sep 00:00</text>
<rect x="1157" y="826" width="1" height="3" fill="#000"/>
<text transform="translate(1156.00,838.11) scale(0.955,1)" font-size="9.8" fill="#000" stroke="#000" stroke-width="0.25" text-anchor="start">16 Sep 16:00</text>
<rect x="1221" y="826" width="1" height="3" fill="#000"/>
<text transform="translate(1220.00,838.11) scale(0.955,1)" font-size="9.8" fill="#000" stroke="#000" stroke-width="0.25" text-anchor="start">19 Sep 08:00</text>
<rect x="1285" y="826" width="1" height="3" fill="#000"/>
<text transform="translate(1284.00,838.11) scale(0.955,1)" font-size="9.8" fill="#000" stroke="#000" stroke-width="0.25" text-anchor="start">20 Sep 00:00</text>
<rect x="1349" y="826" width="1" height="3" fill="#000"/>
<text transform="translate(1348.00,838.11) scale(0.955,1)" font-size="9.8" fill="#000" stroke="#000" stroke-width="0.25" text-anchor="start">20 Sep 16:00</text>
<rect x="1413" y="826" width="1" height="3" fill="#000"/>
<text transform="translate(1412.00,838.11) scale(0.955,1)" font-size="9.8" fill="#000" stroke="#000" stroke-width="0.25" text-anchor="start">21 Sep 08:00</text>
</g>
<g shape-rendering="geometricPrecision">
<g shape-rendering="crispEdges"><rect x="5" y="0" width="1" height="18" fill="#a0a0a0"/></g>
<path d="M15.5 0.5 H23 L26.5 4 V13.5 H15.5z" fill="#fdfdfd" stroke="#9a9a9a" stroke-width="1"/><path d="M23 0.5 V4 H26.5" fill="#e8e8e8" stroke="#9a9a9a" stroke-width="0.8"/><path d="M17.5 3 H20.5 M17.5 6 H23 M17.5 8.5 H22" stroke="#909090" stroke-width="1.2"/><path d="M23 6.8 H27 V10.5 H30.7 V14.3 H27 V17.6 H23 V14.3 H19.3 V10.5 H23z" fill="#25d025" stroke="#0c8c0c" stroke-width="1"/><path d="M24 7.8 H26 V11.5 H29.7" stroke="#8cf08c" stroke-width="0.8" fill="none"/>
<text transform="translate(33.7,11.7) scale(1.0,0.93)" font-size="12" fill="#000" stroke="#000" stroke-width="0.25" font-family='"Liberation Sans", "Noto Sans CJK SC", sans-serif'>新订单</text>
<linearGradient id="gd" x1="0" y1="0" x2="1" y2="1"><stop offset="0" stop-color="#fbe36a"/><stop offset="0.5" stop-color="#f2c21c"/><stop offset="1" stop-color="#c98a14"/></linearGradient><path d="M82 9.7 L87.6 1.3 L97.5 8.1 L97.5 11.2 L89.4 15.6z" fill="url(#gd)" stroke="#b07818" stroke-width="0.9"/><path d="M83 10.6 L89.6 14.2 L97 9.6" stroke="#a86c10" stroke-width="0.8" fill="none"/>
<linearGradient id="sv" x1="0" y1="0" x2="1" y2="0"><stop offset="0" stop-color="#1288ff"/><stop offset="0.35" stop-color="#1a90ff"/><stop offset="0.36" stop-color="#5ab4ff"/><stop offset="1" stop-color="#9ad4ff"/></linearGradient><linearGradient id="cl" x1="0" y1="0" x2="0" y2="1"><stop offset="0" stop-color="#ffffff"/><stop offset="0.6" stop-color="#eef1f8"/><stop offset="1" stop-color="#b8c2dc"/></linearGradient><path d="M112.2 0 H123.3 V9.5 H112.2z" fill="#3ea2ff"/><path d="M112.2 0 L116 1 V9.5 H112.2z" fill="#0f7ff0"/><path d="M117.2 4 H122 M117.2 6.2 H122" stroke="#eaf6ff" stroke-width="1.1"/><path d="M113.2 15.4 C109.4 15.4 109.4 11 113 10.8 C113.2 8 117.6 7.4 118.8 9.6 C120.4 8.5 123.4 9.3 123.2 11.5 C126.8 11.4 126.8 15.4 123.4 15.4z" fill="url(#cl)" stroke="#6f84b4" stroke-width="0.9"/>
<radialGradient id="sg" cx="0.5" cy="0.5" r="0.5"><stop offset="0" stop-color="#ffffff"/><stop offset="1" stop-color="#e9f0ea"/></radialGradient><linearGradient id="sgg" x1="0" y1="0" x2="1" y2="1"><stop offset="0" stop-color="#cfe6cf" stop-opacity="0.5"/><stop offset="1" stop-color="#4fa64f" stop-opacity="0.9"/></linearGradient><circle cx="146.2" cy="7.6" r="7.8" fill="url(#sg)"/><path d="M146.2 -0.2 A7.8 7.8 0 0 1 146.2 15.4z" fill="url(#sgg)"/><path d="M146.2 -0.2 A7.8 7.8 0 0 0 146.2 15.4" stroke="#7f9fe0" stroke-width="0.9" fill="none" opacity="0.85"/><path d="M146.2 2 A5.6 5.6 0 0 0 146.2 13.2" stroke="#5f86dc" stroke-width="0.9" fill="none"/><path d="M146.2 4.2 A3.4 3.4 0 0 0 146.2 11" stroke="#4f77d6" stroke-width="0.9" fill="none"/><path d="M146.2 2 A5.6 5.6 0 0 1 146.2 13.2 M146.2 4.2 A3.4 3.4 0 0 1 146.2 11" stroke="#eef6ee" stroke-width="0.8" fill="none" opacity="0.9"/><path d="M146.2 -0.2 A7.8 7.8 0 0 1 146.2 15.4" stroke="#8fb89a" stroke-width="0.8" fill="none"/><circle cx="146.2" cy="7.4" r="1.8" fill="#2a55cc"/><path d="M146.6 8 V15.6" stroke="#1fa01f" stroke-width="1.4"/>
<linearGradient id="fy" x1="0" y1="0" x2="1" y2="1"><stop offset="0" stop-color="#fff2a0"/><stop offset="1" stop-color="#e8b820"/></linearGradient><path d="M165.3 6.8 L180.2 6.8 L174.6 15.6 L172.6 15.6z" fill="url(#fy)" stroke="#c9a21c" stroke-width="0.7"/><ellipse cx="172.9" cy="4.6" rx="7.8" ry="2.7" fill="#4fa6e2" stroke="#2f86c4" stroke-width="0.6"/><path d="M169.6 4 C169.6 -1.5 176.2 -1.5 176.2 4 C174 5 171.6 5 169.6 4z" fill="#86c8f0" stroke="#3f90cc" stroke-width="0.5"/><circle cx="177.6" cy="11.6" r="4.1" fill="#e22a14" stroke="#b01808" stroke-width="0.5"/><rect x="176.1" y="10.1" width="3" height="3" fill="#fff"/>
<text transform="translate(186.2,11.7) scale(0.985,0.93)" font-size="12" fill="#000" stroke="#000" stroke-width="0.25" font-family='"Liberation Sans", "Noto Sans CJK SC", sans-serif'>自动交易</text>
<g shape-rendering="crispEdges"><rect x="241" y="0" width="1" height="20" fill="#a0a0a0"/><rect x="242" y="0" width="1" height="20" fill="#fafafa"/></g>
<g shape-rendering="crispEdges"><rect x="245" y="0" width="3" height="1" fill="#9a9a9a"/><rect x="245" y="2" width="3" height="1" fill="#9a9a9a"/><rect x="245" y="4" width="3" height="1" fill="#9a9a9a"/><rect x="245" y="6" width="3" height="1" fill="#9a9a9a"/><rect x="245" y="8" width="3" height="1" fill="#9a9a9a"/><rect x="245" y="10" width="3" height="1" fill="#9a9a9a"/><rect x="245" y="12" width="3" height="1" fill="#9a9a9a"/><rect x="245" y="14" width="3" height="1" fill="#9a9a9a"/><rect x="245" y="16" width="3" height="1" fill="#9a9a9a"/></g>
<g shape-rendering="crispEdges" fill="#585858"><rect x="259" y="2" width="1" height="14"/><rect x="257" y="13" width="13" height="1"/></g><path d="M259.5 0.8 l-2 2.7 h4z M271.6 13.5 l-2.7 -2 v4z" fill="#585858"/>
<path d="M266.5 2.5 V11 M264 10.5 H266.5 M266.5 4 H269" stroke="#1a8a1a" stroke-width="1.3" fill="none"/>
<g shape-rendering="crispEdges"><rect x="279" y="0" width="1" height="18" fill="#a0a0a0"/></g>
<rect x="280" y="0" width="24" height="18" fill="#f8f8f8"/>
<g shape-rendering="crispEdges" fill="#585858"><rect x="287" y="2" width="1" height="14"/><rect x="285" y="13" width="13" height="1"/></g><path d="M287.5 0.8 l-2 2.7 h4z M299.6 13.5 l-2.7 -2 v4z" fill="#585858"/>
<path d="M293.5 0 V11.5" stroke="#1a7a1a" stroke-width="1"/><rect x="291.5" y="2.5" width="4" height="7" fill="#30d030" stroke="#1a7a1a" stroke-width="0.8"/>
<g shape-rendering="crispEdges" fill="#585858"><rect x="315" y="2" width="1" height="14"/><rect x="313" y="13" width="13" height="1"/></g><path d="M315.5 0.8 l-2 2.7 h4z M327.6 13.5 l-2.7 -2 v4z" fill="#585858"/>
<path d="M315 10.5 C317.5 7.5 319.5 2.5 322 5 C323.5 6.5 324.5 8 326 9" stroke="#2a8a2a" stroke-width="1.2" fill="none"/>
<g shape-rendering="crispEdges"><rect x="336" y="0" width="1" height="18" fill="#a0a0a0"/></g>
<path d="M354.9 9.5 L360.0 14.5" stroke="#d9a520" stroke-width="3" stroke-linecap="round"/><path d="M354.9 9.5 L360.0 14.5" stroke="#f5d66a" stroke-width="1" stroke-linecap="round"/><circle cx="350.9" cy="5.4" r="5.5" fill="#d8effc" stroke="#2f7cc8" stroke-width="1.1"/><path d="M347.7 5.5 H354.09999999999997 M350.9 2.3 V8.7" stroke="#4a8cba" stroke-width="1.8"/>
<path d="M383.0 9.5 L388.1 14.5" stroke="#d9a520" stroke-width="3" stroke-linecap="round"/><path d="M383.0 9.5 L388.1 14.5" stroke="#f5d66a" stroke-width="1" stroke-linecap="round"/><circle cx="379.0" cy="5.4" r="5.5" fill="#d8effc" stroke="#2f7cc8" stroke-width="1.1"/><path d="M375.8 5.5 H382.2" stroke="#4a8cba" stroke-width="1.8"/>
<g shape-rendering="crispEdges">
<rect x="401" y="0" width="8" height="8" fill="#2f9a14"/><rect x="402" y="3" width="6" height="4" fill="#fff"/><rect x="403" y="4" width="4" height="1" fill="#a4e090"/><rect x="404" y="6" width="2" height="1" fill="#2f9a14"/><rect x="402" y="1" width="1" height="1" fill="#e8f0ff"/>
<rect x="409" y="0" width="8" height="8" fill="#1446d2"/><rect x="410" y="3" width="6" height="4" fill="#fff"/><rect x="411" y="4" width="4" height="1" fill="#94acf4"/><rect x="412" y="6" width="2" height="1" fill="#1446d2"/><rect x="410" y="1" width="1" height="1" fill="#e8f0ff"/>
<rect x="401" y="8" width="8" height="8" fill="#1446d2"/><rect x="402" y="11" width="6" height="4" fill="#fff"/><rect x="403" y="12" width="4" height="1" fill="#94acf4"/><rect x="404" y="14" width="2" height="1" fill="#1446d2"/><rect x="402" y="9" width="1" height="1" fill="#e8f0ff"/>
<rect x="409" y="8" width="8" height="8" fill="#2f9a14"/><rect x="410" y="11" width="6" height="4" fill="#fff"/><rect x="411" y="12" width="4" height="1" fill="#a4e090"/><rect x="412" y="14" width="2" height="1" fill="#2f9a14"/><rect x="410" y="9" width="1" height="1" fill="#e8f0ff"/>
</g>
<g shape-rendering="crispEdges"><rect x="426" y="0" width="1" height="18" fill="#a0a0a0"/></g>
<g shape-rendering="crispEdges"><rect x="431" y="0" width="1" height="18" fill="#a0a0a0"/></g>
<rect x="432" y="0" width="24" height="18" fill="#f8f8f8"/>
<g shape-rendering="crispEdges" fill="#585858"><rect x="439" y="2" width="1" height="14"/><rect x="437" y="13" width="13" height="1"/></g><path d="M439.5 0.8 l-2 2.7 h4z M451.6 13.5 l-2.7 -2 v4z" fill="#585858"/>
<path d="M444.6 4.4 L447.7 7.5 L444.6 10.6z" fill="#66dc66" stroke="#1f9a1f" stroke-width="1"/>
<g shape-rendering="crispEdges"><rect x="459" y="0" width="1" height="18" fill="#a0a0a0"/></g>
<rect x="460" y="0" width="24" height="18" fill="#f8f8f8"/>
<g shape-rendering="crispEdges" fill="#585858"><rect x="467" y="2" width="1" height="14"/><rect x="465" y="13" width="13" height="1"/></g><path d="M467.5 0.8 l-2 2.7 h4z M479.6 13.5 l-2.7 -2 v4z" fill="#585858"/>
<rect x="473" y="2" width="1" height="10" fill="#1f6aa8" shape-rendering="crispEdges"/><path d="M479 7.5 H475.5" stroke="#c84808" stroke-width="1.1" fill="none"/><path d="M474.3 7.5 L477.3 5 L476.6 7.5 L477.3 10z" fill="#d85010" stroke="#b84000" stroke-width="0.5"/>
<g shape-rendering="crispEdges"><rect x="488" y="0" width="1" height="18" fill="#a0a0a0"/></g>
<path d="M498.5 0.8 H505.5 L509 4.3 V12.8 H498.5z" fill="#fbfbfb" stroke="#8a8a8a" stroke-width="1"/><path d="M505.5 0.8 V4.3 H509" fill="#e4e4e4" stroke="#8a8a8a" stroke-width="0.8"/><path d="M501.5 3.5 V9.5 M501.5 5 H503 M501.5 8 H503" stroke="#8a7a50" stroke-width="0.9" fill="none"/><path d="M505.7 6.5 H509.7 V10 H513.5 V14 H509.7 V17.6 H505.7 V14 H502 V10 H505.7z" fill="#25d025" stroke="#0c8c0c" stroke-width="1"/>
<polygon points="519.5,7 525.1,7 522.3,10" fill="#000"/>
<circle cx="543.5" cy="7.8" r="7.2" fill="#2a6fd6" stroke="#1a4fa8" stroke-width="0.8"/><circle cx="543.5" cy="7.8" r="5" fill="#f4f8fc"/><path d="M543.5 4.5 V8 H546.5" stroke="#404040" stroke-width="1" fill="none"/>
<polygon points="558.4,7 564.0,7 561.1999999999999,10" fill="#000"/>
<rect x="575" y="1.5" width="15.5" height="12.5" fill="#f6f9fd" stroke="#2f66c8" stroke-width="1"/><rect x="575" y="1.5" width="15.5" height="2" fill="#2f66c8"/><path d="M575 8.5 H590.5" stroke="#2f66c8" stroke-width="0.8"/><path d="M577 6.8 L580 6 L582 6.6 L585 5.2 L588.5 5.6" stroke="#b03010" stroke-width="1" fill="none"/><path d="M577 12 L580 11 L582 12 L585 10.5 L588.5 12" stroke="#1a9a1a" stroke-width="1" fill="none"/>
<polygon points="597,7 602.6,7 599.8,10" fill="#000"/>
<g shape-rendering="crispEdges"><rect x="609" y="0" width="1" height="20" fill="#a0a0a0"/><rect x="610" y="0" width="1" height="20" fill="#fafafa"/></g>
<g shape-rendering="crispEdges"><rect x="612.5" y="0" width="3" height="1" fill="#9a9a9a"/><rect x="612.5" y="2" width="3" height="1" fill="#9a9a9a"/><rect x="612.5" y="4" width="3" height="1" fill="#9a9a9a"/><rect x="612.5" y="6" width="3" height="1" fill="#9a9a9a"/><rect x="612.5" y="8" width="3" height="1" fill="#9a9a9a"/><rect x="612.5" y="10" width="3" height="1" fill="#9a9a9a"/><rect x="612.5" y="12" width="3" height="1" fill="#9a9a9a"/><rect x="612.5" y="14" width="3" height="1" fill="#9a9a9a"/><rect x="612.5" y="16" width="3" height="1" fill="#9a9a9a"/></g>
<g shape-rendering="crispEdges"><rect x="619" y="0" width="1" height="18" fill="#a0a0a0"/></g>
<rect x="620" y="0" width="24" height="18" fill="#f8f8f8"/>
<path d="M627 0.8 V11.9 L629.6 9.6 L632 15.3 L633.8 14.5 L631.5 9 L635.2 8.6z" fill="#505050"/>
<g shape-rendering="crispEdges" fill="#484848"><rect x="659" y="1" width="1" height="6"/><rect x="659" y="10" width="1" height="6"/><rect x="652" y="8" width="6" height="1"/><rect x="661" y="8" width="6" height="1"/><rect x="659" y="8" width="1" height="1" fill="#8a8a6a"/></g>
<g shape-rendering="crispEdges"><rect x="676" y="0" width="1" height="18" fill="#a0a0a0"/></g>
<rect x="693" y="2" width="1" height="13" fill="#484848" shape-rendering="crispEdges"/>
<rect x="716" y="8" width="12" height="1" fill="#484848" shape-rendering="crispEdges"/>
<path d="M743.8 15 L755.8 3" stroke="#404040" stroke-width="1"/>
<path d="M769.7 9.6 L777.8 2 M775 14.7 L784.2 6.2" stroke="#505050" stroke-width="0.8" fill="none"/><path d="M771.5 13.8 L774 7.2 M774.6 11.6 L777.2 4.8 M777.8 9 L780.6 2.6 M781.7 0 V3.8 L783 6.5" stroke="#404040" stroke-width="1.5" fill="none"/>
<text transform="translate(780.6,17) scale(0.95,1)" font-size="7" fill="#303030" stroke="#303030" stroke-width="0.15" text-anchor="start" font-weight="bold">E</text>
<g shape-rendering="crispEdges" fill="#505050">
<rect x="799" y="1" width="1" height="1"/>
<rect x="801" y="1" width="1" height="1"/>
<rect x="803" y="1" width="1" height="1"/>
<rect x="805" y="1" width="1" height="1"/>
<rect x="807" y="1" width="1" height="1"/>
<rect x="809" y="1" width="1" height="1"/>
<rect x="811" y="1" width="1" height="1"/>
<rect x="799" y="4" width="1" height="1"/>
<rect x="801" y="4" width="1" height="1"/>
<rect x="803" y="4" width="1" height="1"/>
<rect x="805" y="4" width="1" height="1"/>
<rect x="807" y="4" width="1" height="1"/>
<rect x="809" y="4" width="1" height="1"/>
<rect x="811" y="4" width="1" height="1"/>
<rect x="799" y="8" width="1" height="1"/>
<rect x="801" y="8" width="1" height="1"/>
<rect x="803" y="8" width="1" height="1"/>
<rect x="805" y="8" width="1" height="1"/>
<rect x="807" y="8" width="1" height="1"/>
<rect x="809" y="8" width="1" height="1"/>
<rect x="811" y="8" width="1" height="1"/>
<rect x="799" y="12" width="1" height="1"/>
<rect x="801" y="12" width="1" height="1"/>
<rect x="803" y="12" width="1" height="1"/>
<rect x="805" y="12" width="1" height="1"/>
<rect x="807" y="12" width="1" height="1"/>
</g>
<text transform="translate(808.8,17) scale(0.95,1)" font-size="7" fill="#303030" stroke="#303030" stroke-width="0.15" text-anchor="start" font-weight="bold">F</text>
<text transform="translate(833,13) scale(0.88,1)" font-size="12.5" fill="#484848" stroke="#484848" stroke-width="0.15" text-anchor="middle">A</text>
<g shape-rendering="crispEdges" fill="#555">
<rect x="856" y="2" width="1" height="1"/><rect x="856" y="14" width="1" height="1"/>
<rect x="856" y="2" width="1" height="1"/><rect x="867" y="2" width="1" height="1"/>
<rect x="858" y="2" width="1" height="1"/><rect x="858" y="14" width="1" height="1"/>
<rect x="856" y="4" width="1" height="1"/><rect x="867" y="4" width="1" height="1"/>
<rect x="860" y="2" width="1" height="1"/><rect x="860" y="14" width="1" height="1"/>
<rect x="856" y="6" width="1" height="1"/><rect x="867" y="6" width="1" height="1"/>
<rect x="862" y="2" width="1" height="1"/><rect x="862" y="14" width="1" height="1"/>
<rect x="856" y="8" width="1" height="1"/><rect x="867" y="8" width="1" height="1"/>
<rect x="864" y="2" width="1" height="1"/><rect x="864" y="14" width="1" height="1"/>
<rect x="856" y="10" width="1" height="1"/><rect x="867" y="10" width="1" height="1"/>
<rect x="866" y="2" width="1" height="1"/><rect x="866" y="14" width="1" height="1"/>
<rect x="856" y="12" width="1" height="1"/><rect x="867" y="12" width="1" height="1"/>
<rect x="867" y="2" width="1" height="1"/><rect x="866" y="14" width="1" height="1"/>
<rect x="856" y="14" width="1" height="1"/><rect x="867" y="14" width="1" height="1"/>
<rect x="855" y="1" width="2" height="1"/></g>
<text transform="translate(862,12.9) scale(1.0,1)" font-size="11.2" fill="#505050" stroke="#505050" stroke-width="0.15" text-anchor="middle">T</text>
<path d="M886.5 1.8 L890 5.8 H888.6 V6.8 H884.4 V5.8 H883z M893.5 15.2 L897 11.2 H895.6 V10.2 H891.4 V11.2 H890z" fill="#505050"/><path d="M885.2 9.6 L887.4 11.6 L891.6 6.2" stroke="#505050" stroke-width="1.2" fill="none"/>
<polygon points="903.5,7 909.1,7 906.3,10" fill="#000"/>
<g shape-rendering="crispEdges"><rect x="915" y="0" width="1" height="20" fill="#a0a0a0"/><rect x="916" y="0" width="1" height="20" fill="#fafafa"/></g>
<g shape-rendering="crispEdges"><rect x="918.7" y="0" width="3" height="1" fill="#9a9a9a"/><rect x="918.7" y="2" width="3" height="1" fill="#9a9a9a"/><rect x="918.7" y="4" width="3" height="1" fill="#9a9a9a"/><rect x="918.7" y="6" width="3" height="1" fill="#9a9a9a"/><rect x="918.7" y="8" width="3" height="1" fill="#9a9a9a"/><rect x="918.7" y="10" width="3" height="1" fill="#9a9a9a"/><rect x="918.7" y="12" width="3" height="1" fill="#9a9a9a"/><rect x="918.7" y="14" width="3" height="1" fill="#9a9a9a"/><rect x="918.7" y="16" width="3" height="1" fill="#9a9a9a"/></g>
<rect x="1066" y="0" width="24" height="18" fill="#f8f8f8"/>
<g shape-rendering="crispEdges"><rect x="1065" y="0" width="1" height="18" fill="#a0a0a0"/></g>
<text transform="translate(936.75,12) scale(0.955,1)" font-size="9.8" fill="#303030" stroke="#303030" stroke-width="0.15" text-anchor="middle">M1</text>
<text transform="translate(964.6,12) scale(0.955,1)" font-size="9.8" fill="#303030" stroke="#303030" stroke-width="0.15" text-anchor="middle">M5</text>
<text transform="translate(993,12) scale(0.955,1)" font-size="9.8" fill="#303030" stroke="#303030" stroke-width="0.15" text-anchor="middle">M15</text>
<text transform="translate(1021,12) scale(0.955,1)" font-size="9.8" fill="#303030" stroke="#303030" stroke-width="0.15" text-anchor="middle">M30</text>
<text transform="translate(1048.75,12) scale(0.955,1)" font-size="9.8" fill="#303030" stroke="#303030" stroke-width="0.15" text-anchor="middle">H1</text>
<text transform="translate(1076.7,12) scale(0.955,1)" font-size="9.8" fill="#303030" stroke="#303030" stroke-width="0.15" text-anchor="middle">H4</text>
<text transform="translate(1105.2,12) scale(0.955,1)" font-size="9.8" fill="#303030" stroke="#303030" stroke-width="0.15" text-anchor="middle">D1</text>
<text transform="translate(1134,12) scale(0.955,1)" font-size="9.8" fill="#303030" stroke="#303030" stroke-width="0.15" text-anchor="middle">W1</text>
<text transform="translate(1160.75,12) scale(0.955,1)" font-size="9.8" fill="#303030" stroke="#303030" stroke-width="0.15" text-anchor="middle">MN</text>
<g shape-rendering="crispEdges"><rect x="1176" y="0" width="1" height="20" fill="#a0a0a0"/><rect x="1177" y="0" width="1" height="20" fill="#fafafa"/></g>
<path d="M1643.8 8.4 L1638.8 13.2" stroke="#2f5fd0" stroke-width="2.8" stroke-linecap="round"/><circle cx="1646.6" cy="5.5" r="3.9" fill="#f6f8fc" stroke="#2f5fd0" stroke-width="1.2"/>
<path d="M1664 9 C1664 5.5 1672 5 1673.5 8.5 C1675 12.5 1670 14 1667.5 13.6 L1666.3 16 L1665.6 13 C1664.5 12.4 1664 11 1664 9z" fill="#e2e2e6" stroke="#b8b8bc" stroke-width="0.7"/><radialGradient id="rb" cx="0.4" cy="0.3" r="0.8"><stop offset="0" stop-color="#f0583a"/><stop offset="1" stop-color="#d42a12"/></radialGradient><circle cx="1677.3" cy="5.8" r="8.2" fill="url(#rb)"/>
<text transform="translate(1677.2,10.2) scale(0.955,1)" font-size="12" fill="#fff" stroke="#fff" stroke-width="0.15" text-anchor="middle">1</text>
</g></svg>
</body></html>
